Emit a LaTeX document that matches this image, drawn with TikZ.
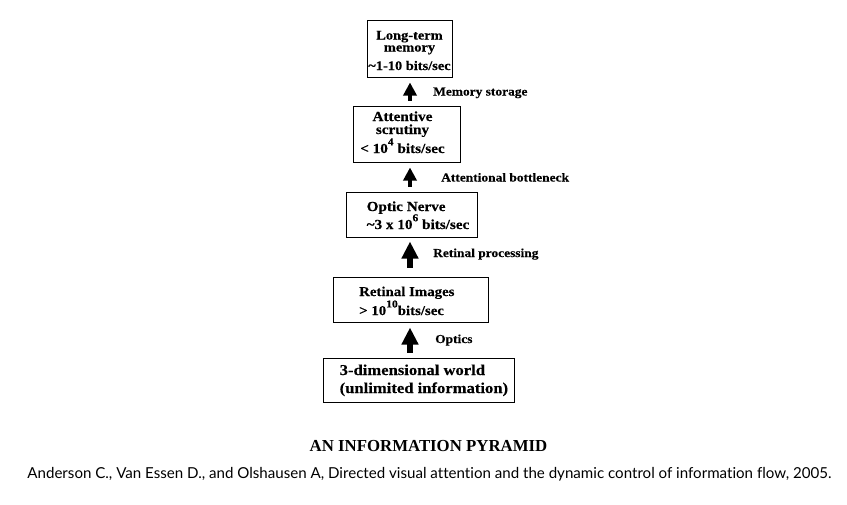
\documentclass[tikz,border=0pt]{standalone}
\usepackage{fontspec}
\setmainfont{Liberation Serif}
\newfontfamily\dfont[FakeStretch=1.1,FakeBold=0.25]{Liberation Serif}
\newfontfamily\capfont[Ligatures=NoCommon]{Lato}
\usetikzlibrary{arrows.meta}
\newcommand\upnum[1]{\raisebox{0.56em}{\fontsize{10.5}{11}\selectfont #1}}
\tikzset{
  box/.style={draw, line width=1pt, inner sep=0pt},
  ltxt/.style={inner sep=0pt, anchor=base west},
  ctxt/.style={inner sep=0pt, anchor=base},
  lab/.style={font={\dfont\bfseries\fontsize{12.2}{14}\selectfont}, inner sep=0pt, anchor=base west},
  bigarr/.style={line width=5.5pt, -{Triangle[width=16pt,length=17pt]}},
  smallarr/.style={line width=4.5pt, -{Triangle[width=13pt,length=13pt]}}
}
\begin{document}
\begin{tikzpicture}[x=1pt,y=-1pt]
\useasboundingbox (0,0) rectangle (847,504);
\fill[white] (0,0) rectangle (847,504);
% boxes
\node[box, minimum width=85pt, minimum height=57pt] (b1) at (409.5,48.5) {};
\node[box, minimum width=107pt, minimum height=56pt] (b2) at (406.5,134) {};
\node[box, minimum width=131pt, minimum height=45pt] (b3) at (411.5,214.5) {};
\node[box, minimum width=155pt, minimum height=45pt] (b4) at (410.5,299.5) {};
\node[box, minimum width=191pt, minimum height=44pt] (b5) at (418.5,380) {};
% box texts
\begin{scope}[every node/.append style={font={\dfont\bfseries\fontsize{13.1}{15}\selectfont}}]
\node[ctxt] (t1a) at (409.5,39.5) {Long-term};
\node[ctxt] (t1b) at (409.5,51.5) {memory};
\node[ctxt] (t1c) at (409.5,70) {\textasciitilde1-10 bits/sec};
\end{scope}
\begin{scope}[every node/.append style={font={\dfont\bfseries\fontsize{13.8}{15}\selectfont}}]
\node[ctxt] (t2a) at (402.5,121) {Attentive};
\node[ctxt] (t2b) at (402.5,134) {scrutiny};
\node[ctxt] (t2c) at (402.5,153) {< 10\upnum{4} bits/sec};
\node[ltxt] (t3a) at (366.5,211) {Optic Nerve};
\node[ltxt] (t3b) at (366.5,229) {\textasciitilde3 x 10\upnum{6} bits/sec};
\end{scope}
\begin{scope}[every node/.append style={font={\dfont\bfseries\fontsize{13.5}{15}\selectfont}}]
\node[ltxt] (t4a) at (359,296) {Retinal Images};
\node[ltxt] (t4b) at (359,315) {> 10\upnum{10}bits/sec};
\end{scope}
\begin{scope}[every node/.append style={font={\dfont\bfseries\fontsize{15.1}{17}\selectfont}}]
\node[ltxt] (t5a) at (339.5,375) {3-dimensional world};
\node[ltxt] (t5b) at (339.5,393) {(unlimited information)};
\end{scope}
% arrows
\coordinate (ax) at (410,0);
\draw[smallarr, shorten <=5pt, shorten >=5pt] (b2.north -| ax) -- (b1.south -| ax);
\draw[smallarr, shorten <=5pt, shorten >=5pt] (b3.north -| ax) -- (b2.south -| ax);
\draw[bigarr, shorten <=9pt, shorten >=4pt] (b4.north -| ax) -- (b3.south -| ax);
\draw[bigarr, shorten <=5pt, shorten >=5pt] (b5.north -| ax) -- (b4.south -| ax);
% labels
\node[lab] (l1) at (433,95.5) {Memory storage};
\node[lab] (l2) at (441,181.5) {Attentional bottleneck};
\node[lab] (l3) at (433,257) {Retinal processing};
\node[lab] (l4) at (435,343) {Optics};
% title and caption
\node[font={\bfseries\fontsize{16.8}{18}\selectfont}, ctxt] (title) at (428.5,451) {AN INFORMATION PYRAMID};
\node[font={\capfont\fontsize{15.1}{17}\selectfont}, ctxt] (caption) at (429.5,478) {Anderson C., Van Essen D., and Olshausen A, Directed visual attention and the dynamic control of information flow, 2005.};
\end{tikzpicture}
\end{document}
